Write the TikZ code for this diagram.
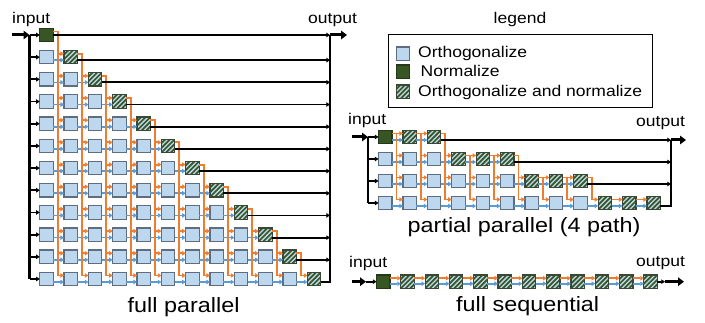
\documentclass[tikz,border=0pt]{standalone}
\usepackage{fontspec}
\setmainfont{Liberation Sans}[FakeStretch=1.13]
\usetikzlibrary{arrows.meta}
\definecolor{orng}{HTML}{ED7D31}
\definecolor{blu}{HTML}{5B9BD5}
\definecolor{boxfill}{HTML}{BDD7EE}
\definecolor{boxedge}{HTML}{5E6E80}
\definecolor{gfill}{HTML}{375623}
\definecolor{gedge}{HTML}{25391A}
\definecolor{hatchc}{HTML}{375623}
\definecolor{hedge}{HTML}{3A4636}
\tikzset{
 obox/.style={draw=boxedge, fill=boxfill, line width=1.2pt, minimum size=13.4pt, inner sep=0pt, outer sep=0pt},
 gbox/.style={obox, draw=gedge, fill=gfill},
 hbox/.style={obox, draw=hedge, path picture={\foreach \k in {-3,...,3}{\draw[hatchc, line width=1.7pt] ([xshift=\k*4.7pt]path picture bounding box.south west) -- ++(20pt,20pt);}}},
 arrtip/.style={-{Triangle[length=3.6pt,width=4.4pt]}},
 oarr/.style={draw=orng, line width=1.9pt, arrtip},
 barr/.style={draw=blu, line width=1.7pt, arrtip},
 karr/.style={draw=black, line width=1.8pt, arrtip},
 kline/.style={draw=black, line width=1.8pt},
 busline/.style={draw=black, line width=2.4pt},
 bigarr/.style={draw=black, line width=3pt, -{Triangle[length=6pt,width=8.5pt]}},
 smalltxt/.style={font=\fontsize{15.5}{18}\selectfont, inner sep=0pt},
 bigtxt/.style={font=\fontsize{20.7}{24}\selectfont, inner sep=0pt},
}
\begin{document}
\begin{tikzpicture}[x=1pt,y=-1pt]
\useasboundingbox (0,0) rectangle (705,323);

% ---------------- full parallel ----------------
\foreach \r in {0,...,11}{
  \foreach \c in {0,...,\r}{
    \pgfmathsetmacro\xx{46.45+24.33*\c}
    \pgfmathsetmacro\yy{35+22.18*\r}
    \ifnum\c<\r
      \node[obox] (f-\r-\c) at (\xx,\yy) {};
    \else
      \ifnum\r=0
        \node[gbox] (f-\r-\c) at (\xx,\yy) {};
      \else
        \node[hbox] (f-\r-\c) at (\xx,\yy) {};
      \fi
    \fi
  }
}
% blue arrows
\foreach \r in {1,...,11}{
  \foreach \c in {1,...,\r}{
    \pgfmathtruncatemacro\p{\c-1}
    \draw[barr] ([yshift=-3pt]f-\r-\p.east) -- ([yshift=-3pt]f-\r-\c.west);
  }
}
% orange arrows
\foreach \j in {0,...,10}{
  \pgfmathtruncatemacro\n{\j+1}
  \draw[oarr] ([yshift=3.5pt]f-\j-\j.east) -| ([xshift=4.5pt,yshift=3.5pt]f-11-\j.east) -- ([yshift=3.5pt]f-11-\n.west);
  \ifnum\n<11
    \foreach \k in {\n,...,10}{
      \draw[oarr] ([xshift=4.5pt,yshift=3.5pt]f-\k-\j.east) -- ([yshift=3.5pt]f-\k-\n.west);
    }
  \fi
}
% input bus
\coordinate (fin) at (12,35);
\foreach \r in {0,...,11}{
  \pgfmathsetmacro\yy{35+22.18*\r}
  \coordinate (fi-\r) at (29.5,\yy);
  \pgfmathsetmacro\yo{35+22.18*\r+3*(\r>0)}
  \coordinate (fo-\r) at (330,\yo);
}
\draw[busline] (fi-0) -- (fi-11);
\draw[bigarr] (fin) -- (fi-0);
\foreach \r in {0,...,11}{
  \draw[karr] (fi-\r) -- (f-\r-0.west);
}
% output bus
\foreach \r in {0,...,10}{
  \draw[karr] (f-\r-\r.east |- fo-\r) -- (fo-\r);
}
\draw[kline] (f-11-11.east |- fo-11) -- (fo-11);
\draw[busline] ([yshift=-1.1pt]fo-11) -- (fo-0);
\coordinate (fout) at (347,35);
\draw[bigarr] (fo-0) -- (fout);

\node[smalltxt, anchor=base west] (t-fin) at (12,24) {input};
\node[smalltxt, anchor=base west] (t-fout) at (308,24) {output};
\node[bigtxt, anchor=base west] (t-fp) at (127.5,313) {full parallel};

% ---------------- legend ----------------
\node[smalltxt, anchor=base] (t-leg) at (520,23.5) {legend};
\node[draw=black, line width=1pt, minimum width=264pt, minimum height=72.5pt, inner sep=0pt] (legbox) at (520.5,71.25) {};
\node[obox] (l1) at (403,53.7) {};
\node[gbox] (l2) at (403,71.7) {};
\node[hbox] (l3) at (403,91.7) {};
\node[smalltxt, anchor=base west] (lt1) at (418,57.5) {Orthogonalize};
\node[smalltxt, anchor=base west] (lt2) at (420.5,77) {Normalize};
\node[smalltxt, anchor=base west] (lt3) at (418,96.3) {Orthogonalize and normalize};

% ---------------- partial parallel ----------------
\foreach \r in {0,...,3}{
  \pgfmathtruncatemacro\last{3*\r+2}
  \pgfmathtruncatemacro\first{3*\r}
  \foreach \c in {0,...,\last}{
    \pgfmathsetmacro\xx{385.25+24.4*\c}
    \pgfmathsetmacro\yy{137+22*\r}
    \ifnum\c<\first
      \node[obox] (p-\r-\c) at (\xx,\yy) {};
    \else
      \ifnum\c=0
        \node[gbox] (p-\r-\c) at (\xx,\yy) {};
      \else
        \node[hbox] (p-\r-\c) at (\xx,\yy) {};
      \fi
    \fi
  }
}
\foreach \r in {0,...,3}{
  \pgfmathtruncatemacro\last{3*\r+2}
  \foreach \c in {1,...,\last}{
    \pgfmathtruncatemacro\p{\c-1}
    \draw[barr] ([yshift=-3pt]p-\r-\p.east) -- ([yshift=-3pt]p-\r-\c.west);
  }
}
\foreach \r in {0,...,3}{
  \pgfmathtruncatemacro\last{3*\r+2}
  \pgfmathtruncatemacro\first{3*\r}
  \pgfmathtruncatemacro\rr{\r+1}
  \foreach \j in {\first,...,\last}{
    \pgfmathtruncatemacro\n{\j+1}
    \ifnum\r<3
      \draw[oarr] ([yshift=3.5pt]p-\r-\j.east) -| ([xshift=4.5pt,yshift=3.5pt]p-3-\j.east) -- ([yshift=3.5pt]p-3-\n.west);
      \ifnum\rr<3
        \foreach \k in {\rr,...,2}{
          \draw[oarr] ([xshift=4.5pt,yshift=3.5pt]p-\k-\j.east) -- ([yshift=3.5pt]p-\k-\n.west);
        }
      \fi
    \fi
    \ifnum\j<\last
      \draw[oarr] ([yshift=3.5pt]p-\r-\j.east) -- ([yshift=3.5pt]p-\r-\n.west);
    \fi
  }
}
\coordinate (pin) at (352,137);
\foreach \r in {0,...,3}{
  \pgfmathsetmacro\yy{137+22*\r}
  \coordinate (pi-\r) at (368,\yy);
  \pgfmathsetmacro\yo{140+22*\r}
  \coordinate (po-\r) at (671,\yo);
}
\draw[busline] (pi-0) -- (pi-3);
\draw[bigarr] (pin) -- (pi-0);
\foreach \r in {0,...,3}{
  \draw[karr] (pi-\r) -- (p-\r-0.west);
}
\draw[karr] (p-0-2.east |- po-0) -- (po-0);
\draw[karr] (p-1-5.east |- po-1) -- (po-1);
\draw[karr] (p-2-8.east |- po-2) -- (po-2);
\draw[kline] (p-3-11.east |- po-3) -- (po-3);
\draw[busline] ([yshift=-1.1pt]po-3) -- (po-0);
\coordinate (pout) at (686,140);
\draw[bigarr] (po-0) -- (pout);

\node[smalltxt, anchor=base west] (t-pin) at (348,125) {input};
\node[smalltxt, anchor=base west] (t-pout) at (636,127) {output};
\node[bigtxt, anchor=base west] (t-pp) at (407.5,232.3) {partial parallel (4 path)};

% ---------------- full sequential ----------------
\foreach \j in {0,...,11}{
  \pgfmathsetmacro\xx{383.25+24.3*\j}
  \ifnum\j=0
    \node[gbox] (s-\j) at (\xx,281.7) {};
  \else
    \node[hbox] (s-\j) at (\xx,281.7) {};
  \fi
}
\foreach \j in {1,...,11}{
  \pgfmathtruncatemacro\p{\j-1}
  \draw[oarr] ([yshift=3.5pt]s-\p.east) -- ([yshift=3.5pt]s-\j.west);
  \draw[barr] ([yshift=-2pt]s-\p.east) -- ([yshift=-2pt]s-\j.west);
}
\coordinate (sin) at (352,281.7);
\coordinate (sin2) at (366,281.7);
\draw[bigarr] (sin) -- (sin2);
\draw[karr] (sin2) -- (s-0.west);
\coordinate (sout1) at (665,281.7);
\coordinate (sout2) at (684,281.7);
\draw[karr] (s-11.east) -- (sout1);
\draw[bigarr] (sout1) -- (sout2);

\node[smalltxt, anchor=base west] (t-sin) at (349,268) {input};
\node[smalltxt, anchor=base west] (t-sout) at (636,267) {output};
\node[bigtxt, anchor=base west] (t-fs) at (456,312) {full sequential};
\end{tikzpicture}
\end{document}
